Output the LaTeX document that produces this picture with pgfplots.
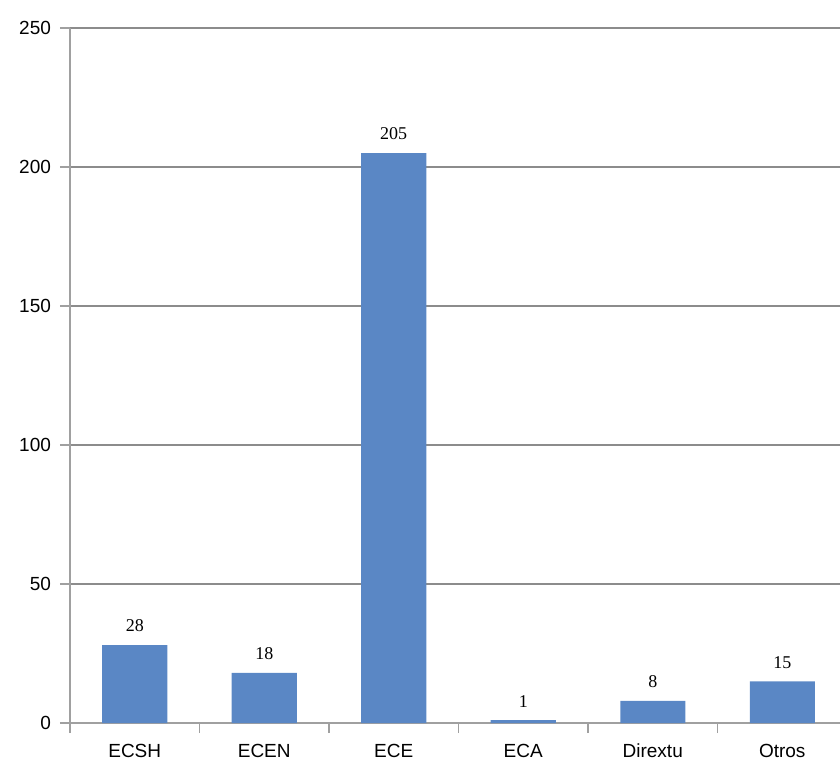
\documentclass[border=0pt]{standalone}
\usepackage{pgfplots}
\pgfplotsset{compat=1.18}
\usepackage{fontspec}
\setmainfont{Liberation Sans}
\newfontfamily\serif{Liberation Serif}
\definecolor{barblue}{HTML}{5A87C5}
\definecolor{gridgray}{HTML}{8C8C8C}
\definecolor{axisgray}{HTML}{A0A0A0}
\begin{document}
\begin{tikzpicture}
\begin{axis}[
  scale only axis,
  width=385pt, height=347.5pt,
  xmin=-0.5, xmax=5.446,
  ymin=0, ymax=250,
  ytick={0,50,100,150,200,250},
  xtick={0,1,2,3,4,5},
  xticklabels={ECSH,ECEN,ECE,ECA,Dirextu,Otros},
  minor xtick={-0.5,0.5,1.5,2.5,3.5,4.5,5.5},
  axis x line*=bottom, axis y line*=left,
  axis line style={axisgray, line width=0.8pt},
  tick align=outside,
  major x tick style={draw=none},
  minor x tick style={axisgray, line width=0.8pt},
  minor tick length=5pt,
  major y tick style={axisgray, line width=0.8pt},
  major tick length=5pt,
  ymajorgrids,
  grid style={gridgray, line width=0.7pt},
  tick label style={font=\fontsize{9.5}{11}\selectfont},
  /pgf/number format/assume math mode=true,
  yticklabel style={xshift=-1pt},
  xticklabel style={yshift=-2pt},
  ybar, bar width=32.5pt,
  nodes near coords,
  every node near coord/.append style={font=\serif\fontsize{9}{10}\selectfont, yshift=3pt},
  clip=false,
]
\addplot[fill=barblue, draw=none] coordinates {(0,28) (1,18) (2,205) (3,1) (4,8) (5,15)};
\coordinate (bl) at (rel axis cs:0,0);
\coordinate (tr) at (rel axis cs:1,1);
\end{axis}
\pgfresetboundingbox
\path ([xshift=-35pt,yshift=-21pt]bl) rectangle ([yshift=14pt]tr);
\end{tikzpicture}
\end{document}
